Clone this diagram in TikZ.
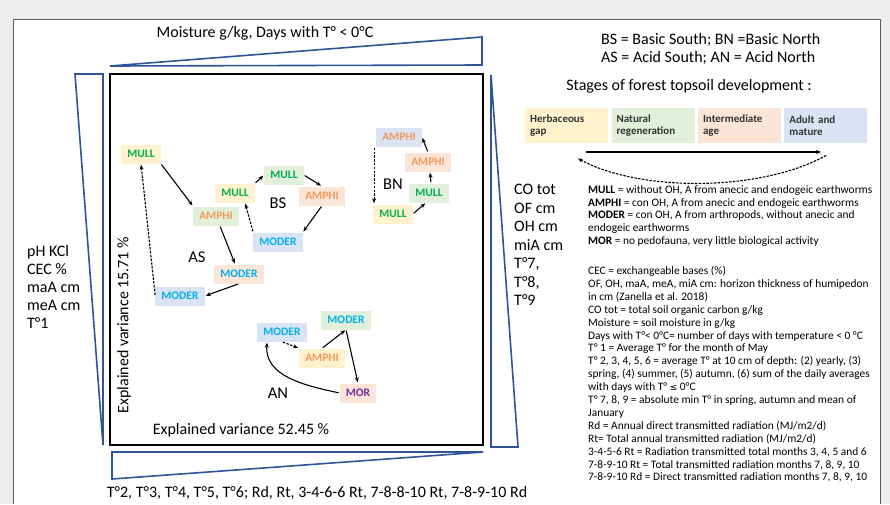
\documentclass[tikz,border=0pt]{standalone}
\usepackage{fontspec}
\setmainfont{Carlito}
\newfontfamily\simbolos{DejaVu Sans}
\usetikzlibrary{arrows.meta,positioning}

\definecolor{fondo}{HTML}{EDEDED}
\definecolor{azulcuna}{HTML}{2F5597}
\definecolor{amarillo}{HTML}{FFF2CC}
\definecolor{verdeclaro}{HTML}{E2EFDA}
\definecolor{salmon}{HTML}{FBE5D6}
\definecolor{azulclaro}{HTML}{DAE3F3}
\definecolor{txtverde}{HTML}{00B050}
\definecolor{txtnaranja}{HTML}{F19A5C}
\definecolor{txtazul}{HTML}{00B0F0}
\definecolor{txtmorado}{HTML}{7030A0}

\tikzset{
  humus/.style={
    rectangle, inner xsep=6pt, inner ysep=0pt, minimum height=19pt,
    font=\fontsize{11.5}{13}\selectfont\bfseries},
  mull/.style={humus, text=txtverde},
  amphi/.style={humus, text=txtnaranja},
  moder/.style={humus, text=txtazul},
  mor/.style={humus, text=txtmorado},
  etapa/.style={
    rectangle, align=left, text width=73pt, minimum height=35pt,
    inner xsep=5pt, text=black!80,
    font=\fontsize{11}{12.5}\selectfont\bfseries},
  rotulo/.style={font=\fontsize{16}{18}\selectfont, inner sep=0pt},
  sitio/.style={font=\fontsize{16.5}{18}\selectfont, inner sep=0pt},
  leyenda/.style={
    anchor=north west, align=left, inner sep=0pt,
    font=\fontsize{11.4}{12.9}\selectfont},
  cuna/.style={draw=azulcuna, line width=1.6pt, line join=miter},
  flecha/.style={-{Stealth[length=5pt,width=4pt]}, line width=1.1pt,
    shorten <=1pt, shorten >=1pt},
  retorno/.style={flecha, dash pattern=on 2.5pt off 1.3pt}
}

\begin{document}
\begin{tikzpicture}[x=1pt,y=-1pt]
\useasboundingbox (0,0) rectangle (890,504);

% Fondo y marco
\fill[fondo] (0,0) rectangle (890,504);
\fill[white] (13,19) rectangle (880,504);
\draw[black!65, line width=0.8pt] (13,504) |- (880,19) -- (880,504);

% Cunas de las variables
\draw[cuna] (110,66) -- (482,37) -- (482,65) -- cycle;
\draw[cuna] (75,74) -- (103,74) -- (103,445) -- cycle;
\draw[cuna] (112,452) -- (483,452) -- (112,479) -- cycle;
\draw[cuna] (491,75) -- (491,447) -- (518,447) -- cycle;

% Caja del analisis
\draw[line width=2.2pt] (110,74) rectangle (483,445);

% Variables en los ejes
\node[rotulo] (ejeArriba) at (265,33) {Moisture g/kg, Days with T° < 0°C};
\node[rotulo, anchor=north west, align=left] (ejeIzq) at (27,245)
  {pH KCl\\CEC \%\\maA cm\\meA cm\\T°1};
\node[rotulo, anchor=north west, align=left, font=\fontsize{16}{18.5}\selectfont]
  (ejeDer) at (514,184) {CO tot\\OF cm\\OH cm\\miA cm\\T°7,\\T°8,\\T°9};
\node[rotulo] (ejeAbajo) at (317,493)
  {T°2, T°3, T°4, T°5, T°6; Rd, Rt, 3-4-6-6 Rt, 7-8-8-10 Rt, 7-8-9-10 Rd};
\node[rotulo, rotate=90] (varY) at (124,325) {Explained variance 15.71 \%};
\node[rotulo] (varX) at (241,430) {Explained variance 52.45 \%};

% AS
\node[mull, fill=amarillo] (mullAS) at (141,154) {MULL};
\node[amphi, fill=verdeclaro] (amphiAS) at (216,216) {AMPHI};
\node[moder, fill=salmon] (moderAS) at (239,274) {MODER};
\node[moder, fill=azulclaro] (moderASb) at (180,296) {MODER};
\node[sitio] (AS) at (197,257) {AS};

% BS
\node[mull, fill=amarillo] (mullBS) at (235,193) {MULL};
\node[mull, fill=verdeclaro] (mullBSb) at (284,175) {MULL};
\node[amphi, fill=salmon] (amphiBS) at (322,196) {AMPHI};
\node[moder, fill=azulclaro] (moderBS) at (278,242) {MODER};
\node[sitio] (BS) at (278,203) {BS};

% BN
\node[amphi, fill=azulclaro] (amphiBN) at (399,137) {AMPHI};
\node[amphi, fill=salmon] (amphiBNb) at (428,162) {AMPHI};
\node[mull, fill=verdeclaro] (mullBNb) at (429,193) {MULL};
\node[mull, fill=amarillo] (mullBN) at (393,214) {MULL};
\node[sitio] (BN) at (393,184) {BN};

% AN
\node[moder, fill=azulclaro] (moderAN) at (282,332) {MODER};
\node[moder, fill=verdeclaro] (moderANb) at (346,320) {MODER};
\node[amphi, fill=amarillo] (amphiAN) at (322,358) {AMPHI};
\node[mor, fill=salmon] (morAN) at (358,393) {MOR};
\node[sitio] (AN) at (278,393) {AN};

\draw[flecha] (mullAS.south east) -- (amphiAS.north west);
\draw[flecha] (amphiAS) -- (moderAS);
\draw[flecha] (moderAS.south) -- (moderASb.east);
\draw[retorno] (moderASb.west) -- (mullAS.south);

\draw[flecha] (mullBS.north east) -- (mullBSb.west);
\draw[flecha] (mullBSb.east) -- (amphiBS.north);
\draw[flecha] (amphiBS.south) -- (moderBS.north east);
\draw[retorno] (moderBS.north west) -- ([xshift=10pt]mullBS.south);

\draw[flecha] (mullBN.east) -- ([xshift=-3pt]mullBNb.south);
\draw[flecha] ([xshift=2pt]mullBNb.north) -- ([xshift=2pt]amphiBNb.south);
\draw[flecha] (amphiBNb.north) -- (amphiBN.east);
\draw[retorno] ([xshift=-2pt]amphiBN.south west) -- ([xshift=-2pt]amphiBN.south west |- mullBN.north);

\draw[retorno] (moderAN.south) -- (amphiAN.north west);
\draw[flecha] (amphiAN.north) -- (moderANb.south);
\draw[flecha] (moderANb.south) -- (morAN.north);
\draw[flecha] (morAN.west) to[out=168,in=-95] ([xshift=10pt]moderAN.south west);

% Claves de los sitios
\node[rotulo, anchor=north west, align=left] (claves) at (601,33)
  {BS = Basic South; BN =Basic North\\AS = Acid South; AN = Acid North};
\node[rotulo] (etapas) at (689,86) {Stages of forest topsoil development :};

% Etapas de desarrollo
\node[etapa, fill=amarillo, anchor=north west] (herb) at (525,108) {Herbaceous\\gap};
\node[etapa, fill=verdeclaro, right=3pt of herb] (natural) {Natural\\regeneration};
\node[etapa, fill=salmon, right=3pt of natural] (inter) {Intermediate\\age};
\node[etapa, fill=azulclaro, right=3pt of inter] (adulto) {Adult and\\mature};

\coordinate (avIni) at (585,152);
\coordinate (avFin) at (822,152);
\coordinate (retIni) at (827,155);
\coordinate (retFin) at (577,158);
\draw[flecha] (avIni) -- (avFin);
\draw[retorno] (retIni) .. controls (760,192) and (640,192) .. (retFin);

% Leyendas
\node[leyenda] (humus) at (588,185)
  {\textbf{MULL} = without OH, A from anecic and endogeic earthworms\\
   \textbf{AMPHI} = con OH, A from anecic and endogeic earthworms\\
   \textbf{MODER} = con OH, A from arthropods, without anecic and\\
   endogeic earthworms\\
   \textbf{MOR} = no pedofauna, very little biological activity};
\node[leyenda] (variables) at (588,266)
  {CEC = exchangeable bases (\%)\\
   OF, OH, maA, meA, miA cm: horizon thickness of humipedon\\
   in cm (Zanella et al. 2018)\\
   CO tot = total soil organic carbon g/kg\\
   Moisture = soil moisture in g/kg\\
   Days with T°< 0°C= number of days with temperature < 0 °C\\
   T° 1 = Average T° for the month of May\\
   T° 2, 3, 4, 5, 6 = average T° at 10 cm of depth: (2) yearly, (3)\\
   spring, (4) summer, (5) autumn, (6) sum of the daily averages\\
   with days with T° {\simbolos\fontsize{9}{10}\selectfont ≤} 0°C\\
   T° 7, 8, 9 = absolute min T° in spring, autumn and mean of\\
   January\\
   Rd = Annual direct transmitted radiation (MJ/m2/d)\\
   Rt= Total annual transmitted radiation (MJ/m2/d)\\
   3-4-5-6 Rt = Radiation transmitted total months 3, 4, 5 and 6\\
   7-8-9-10 Rt = Total transmitted radiation months 7, 8, 9, 10\\
   7-8-9-10 Rd = Direct transmitted radiation months 7, 8, 9, 10};

\end{tikzpicture}
\end{document}
